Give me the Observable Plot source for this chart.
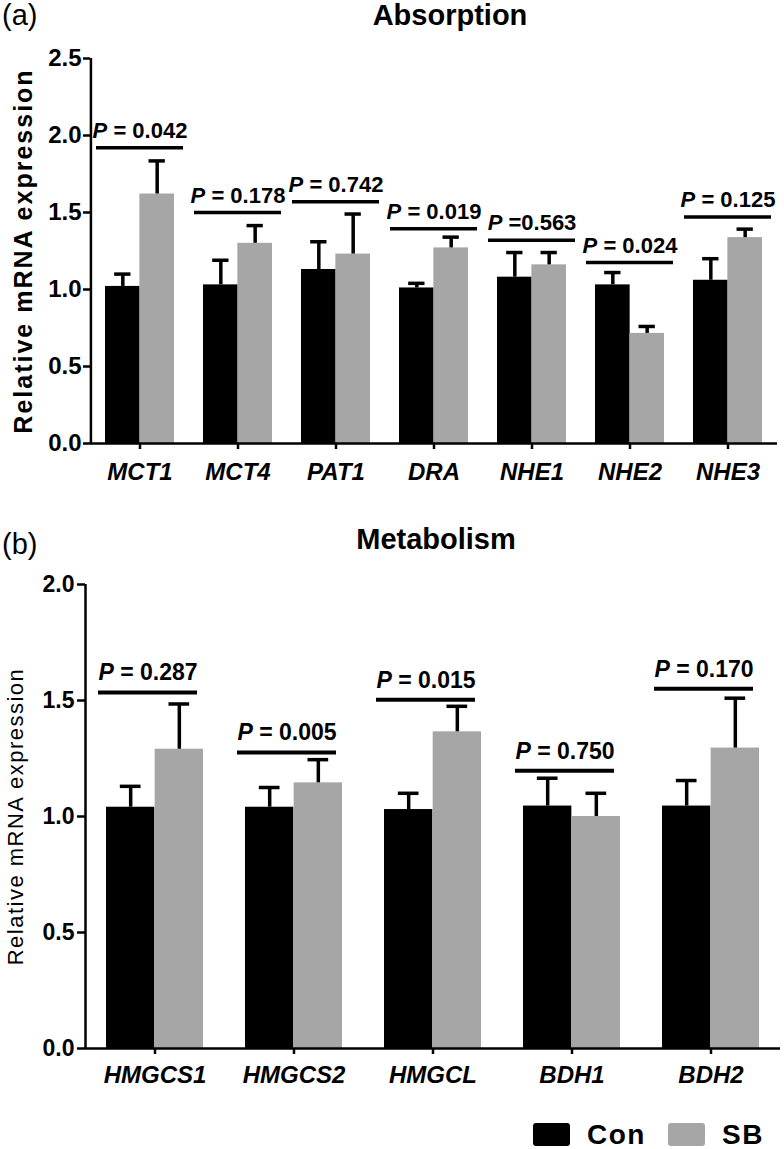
<!DOCTYPE html>
<html>
<head>
<meta charset="utf-8">
<script src="https://cdn.jsdelivr.net/npm/d3@7"></script>
<script src="https://cdn.jsdelivr.net/npm/@observablehq/plot@0.6"></script>
<style>
  html, body { margin: 0; padding: 0; background: #fff; }
  #root { position: relative; width: 784px; height: 1149px; overflow: hidden;
          font-family: "Liberation Sans", Arial, Helvetica, sans-serif; color: #000; }
  .abs { position: absolute; white-space: nowrap; line-height: 1; }
  .panel { position: absolute; left: 0; }
  .sw { position: absolute; border-radius: 3px; }
</style>
</head>
<body>
<div id="root"></div>
<script>
const FONT = '"Liberation Sans", Arial, Helvetica, sans-serif';
const GREY = "#a6a6a6";

// ---- Panel (a): Absorption ----
const absGenes  = ["MCT1", "MCT4", "PAT1", "DRA", "NHE1", "NHE2", "NHE3"];
const absCon    = [1.02, 1.03, 1.13, 1.01, 1.08, 1.03, 1.06];
const absConSem = [0.08, 0.16, 0.18, 0.03, 0.16, 0.08, 0.14];
const absSB     = [1.62, 1.30, 1.23, 1.27, 1.16, 0.715, 1.337];
const absSBSem  = [0.215, 0.115, 0.26, 0.07, 0.08, 0.045, 0.055];
const absPText  = ["P = 0.042", "P = 0.178", "P = 0.742", "P = 0.019", "P =0.563", "P = 0.024", "P = 0.125"];
const absPLevel = [1.92, 1.50, 1.57, 1.395, 1.32, 1.175, 1.47];
const absTicks  = [0, 0.5, 1.0, 1.5, 2.0, 2.5];

// ---- Panel (b): Metabolism ----
const metGenes  = ["HMGCS1", "HMGCS2", "HMGCL", "BDH1", "BDH2"];
const metCon    = [1.04, 1.04, 1.03, 1.045, 1.045];
const metConSem = [0.09, 0.085, 0.07, 0.12, 0.11];
const metSB     = [1.29, 1.145, 1.365, 1.00, 1.295];
const metSBSem  = [0.195, 0.10, 0.11, 0.10, 0.215];
const metPText  = ["P = 0.287", "P = 0.005", "P = 0.015", "P = 0.750", "P = 0.170"];
const metPLevel = [1.535, 1.276, 1.503, 1.197, 1.551];
const metTicks  = [0, 0.5, 1.0, 1.5, 2.0];

const groups = ["Con", "SB"];
const groupColors = ["#000000", GREY];
const yLabel = "Relative mRNA expression";

function drawPanel(c) {
  const n = c.genes.length;
  const step = (c.width - c.ml - c.mr) / n;
  const bw = step * (1 - c.pad);
  const con = c.genes.map((g, i) => ({gene: g, mean: c.con[i], top: c.con[i] + c.conSem[i]}));
  const sb  = c.genes.map((g, i) => ({gene: g, mean: c.sb[i],  top: c.sb[i]  + c.sbSem[i]}));
  const pr  = c.genes.map((g, i) => ({gene: g, level: c.pLevel[i], label: c.pText[i]}));
  const capInset = (bw - c.cap) / 2;

  const svg = Plot.plot({
    width: c.width, height: c.height,
    marginTop: c.mt, marginBottom: c.mb, marginLeft: c.ml, marginRight: c.mr,
    style: {fontFamily: FONT, background: "transparent", color: "#000", overflow: "visible"},
    x: {domain: c.genes, paddingInner: c.pad, paddingOuter: c.pad / 2},
    y: {domain: [0, c.yMax]},
    marks: [
      Plot.barY(con, {x: "gene", y: "mean", fill: groupColors[0], insetRight: bw / 2}),
      Plot.barY(sb,  {x: "gene", y: "mean", fill: groupColors[1], insetLeft: bw / 2}),
      Plot.ruleX(con, {x: "gene", y1: "mean", y2: "top", dx: -bw / 4, stroke: "#000", strokeWidth: c.ew}),
      Plot.tickY(con, {x: "gene", y: "top", dx: -bw / 4, insetLeft: capInset, insetRight: capInset, stroke: "#000", strokeWidth: c.ew}),
      Plot.ruleX(sb, {x: "gene", y1: "mean", y2: "top", dx: bw / 4, stroke: "#000", strokeWidth: c.ew}),
      Plot.tickY(sb, {x: "gene", y: "top", dx: bw / 4, insetLeft: capInset, insetRight: capInset, stroke: "#000", strokeWidth: c.ew}),
      Plot.tickY(pr, {x: "gene", y: "level", dx: c.pDx, insetLeft: c.pInset, insetRight: c.pInset, stroke: "#000", strokeWidth: c.pw}),
      Plot.text(pr, {x: "gene", y: "level", text: "label", dx: c.pDx, dy: -c.pGap, lineAnchor: "bottom",
                     fontSize: c.pFont, fontWeight: "bold", fill: "#000"}),
      Plot.ruleY([0], {stroke: "#000", strokeWidth: c.aw}),
      Plot.ruleX([c.genes[0]], {x: d => d, y1: 0, y2: c.yMax, dx: -step / 2, stroke: "#000", strokeWidth: c.aw}),
      Plot.axisY({ticks: c.yTicks, tickFormat: d3.format(".1f"), tickSize: c.yTickSize, tickPadding: c.yTickPad,
                  fontSize: c.tickFont, fontWeight: "bold", strokeWidth: c.aw, label: null}),
      Plot.axisX({tickSize: 6, tickPadding: c.xTickPad, fontSize: c.xFont, fontWeight: "bold",
                  fontStyle: "italic", strokeWidth: c.aw, label: null}),
      Plot.text([yLabel], {text: d => d, frameAnchor: "left", textAnchor: "middle", lineAnchor: "middle",
                           dx: c.ylabDx, rotate: -90,
                           fontSize: c.ylabFont, fontWeight: c.ylabWeight, fill: "#000"})
    ]
  });

  // italic "P" in p-value labels, letter spacing for y label
  const ns = "http://www.w3.org/2000/svg";
  svg.querySelectorAll("text").forEach(t => {
    const s = t.textContent;
    if (/^P ?=/.test(s) && t.children.length === 0) {
      t.textContent = "";
      const a = document.createElementNS(ns, "tspan");
      a.setAttribute("font-style", "italic");
      a.textContent = "P";
      const b = document.createElementNS(ns, "tspan");
      b.textContent = s.slice(1);
      t.append(a, b);
    } else if (s === yLabel) {
      t.style.letterSpacing = c.ylabSpacing + "px";
    }
  });
  svg.querySelectorAll('g[aria-label="x-axis tick label"] text').forEach(t => {
    t.style.fontStyle = "italic";
  });
  return svg;
}

const root = document.getElementById("root");

function addText(txt, css) {
  const d = document.createElement("div");
  d.className = "abs";
  d.textContent = txt;
  Object.assign(d.style, css);
  root.appendChild(d);
  return d;
}

// Panel (a)
const svgA = drawPanel({
  genes: absGenes, con: absCon, conSem: absConSem, sb: absSB, sbSem: absSBSem,
  pText: absPText, pLevel: absPLevel, yMax: 2.5, yTicks: absTicks,
  width: 784, height: 500, mt: 58, mb: 57, ml: 90, mr: 7, pad: 0.3,
  cap: 16, ew: 3.5, pw: 3.5, aw: 2.5, pDx: 0, pInset: -9, pGap: 10, pFont: 22,
  yTickSize: 7, yTickPad: 2, tickFont: 24, xTickPad: 13, xFont: 24,
  ylabDx: -67, ylabFont: 25, ylabWeight: "bold", ylabSpacing: 2
});
const wrapA = document.createElement("div");
wrapA.className = "panel";
wrapA.style.top = "0px";
wrapA.appendChild(svgA);
root.appendChild(wrapA);

// Panel (b)
const svgB = drawPanel({
  genes: metGenes, con: metCon, conSem: metConSem, sb: metSB, sbSem: metSBSem,
  pText: metPText, pLevel: metPLevel, yMax: 2.0, yTicks: metTicks,
  width: 784, height: 540, mt: 24, mb: 52, ml: 85, mr: 4, pad: 0.3,
  cap: 21, ew: 3.5, pw: 4, aw: 2.5, pDx: -7, pInset: -1, pGap: 12, pFont: 23,
  yTickSize: 8, yTickPad: 3, tickFont: 23, xTickPad: 11, xFont: 24,
  ylabDx: -70, ylabFont: 22, ylabWeight: "normal", ylabSpacing: 1.5
});
const wrapB = document.createElement("div");
wrapB.className = "panel";
wrapB.style.top = "560px";
wrapB.appendChild(svgB);
root.appendChild(wrapB);

// Titles
addText("(a)", {left: "2px", top: "1px", fontSize: "29px"});
addText("Absorption", {left: "450px", top: "1px", fontSize: "29px", fontWeight: "bold", transform: "translateX(-50%)"});
addText("(b)", {left: "2px", top: "530px", fontSize: "29px"});
addText("Metabolism", {left: "436px", top: "525px", fontSize: "29px", fontWeight: "bold", transform: "translateX(-50%)"});

// Legend
const legendX = [533, 668];
groups.forEach((g, i) => {
  const sw = document.createElement("div");
  sw.className = "sw";
  Object.assign(sw.style, {left: legendX[i] + "px", top: "1123px", width: "37px", height: "23px", background: groupColors[i]});
  root.appendChild(sw);
  addText(g, {left: (legendX[i] + 54) + "px", top: "1121px", fontSize: "28px", fontWeight: "bold", letterSpacing: "1.5px"});
});
</script>
</body>
</html>
